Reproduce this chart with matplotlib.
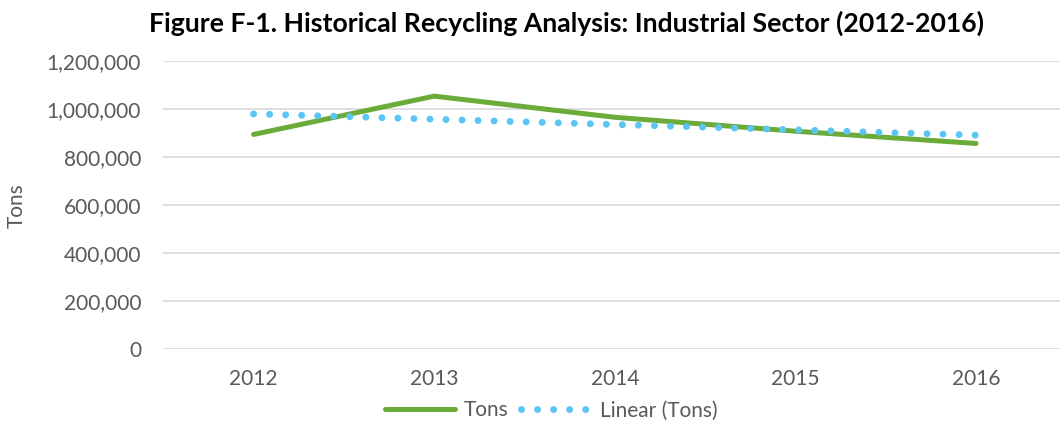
import matplotlib.pyplot as plt
import numpy as np
from matplotlib.lines import Line2D
from matplotlib.ticker import FuncFormatter

# Datos
years = ['2012', '2013', '2014', '2015', '2016']
tons = [894500, 1054000, 966000, 908000, 857000]

title = 'Figure F-1. Historical Recycling Analysis: Industrial Sector (2012-2016)'
y_ticks = [0, 200000, 400000, 600000, 800000, 1000000, 1200000]

green = '#6AAB3A'
blue = '#5BC5F5'
grey_text = '#595959'
grid_col = '#D9D9D9'
dots = (0, (0.01, 2.3))

plt.rcParams['font.family'] = ['Lato', 'DejaVu Sans']

fig = plt.figure(figsize=(10.6, 4.21), dpi=100)
ax = fig.add_axes([0.154, 0.17, 0.852, 0.685])

x = np.arange(len(years))
y = np.array(tons, dtype=float)

ax.plot(x, y, color=green, lw=3.6, solid_capstyle='round',
        solid_joinstyle='round', zorder=3)

# tendencia lineal (como Excel)
coef = np.polyfit(x, y, 1)
trend = np.polyval(coef, x)
ax.plot(x, trend, color=blue, lw=5, linestyle=dots,
        dash_capstyle='round', zorder=4)

ax.set_xlim(-0.5, len(years) - 0.5)
ax.set_ylim(0, 1200000)
ax.set_yticks(y_ticks)
ax.yaxis.set_major_formatter(FuncFormatter(lambda v, p: f'{int(v):,}'))
ax.set_xticks(x)
ax.set_xticklabels(years)
ax.tick_params(length=0, labelsize=15, colors=grey_text)
ax.tick_params(axis='y', pad=16)
ax.tick_params(axis='x', pad=14)
ax.grid(axis='y', color=grid_col, lw=1.2)
ax.set_axisbelow(True)
for s in ax.spines.values():
    s.set_visible(False)

ax.set_ylabel('Tons', fontsize=15, color=grey_text, labelpad=14)

fig.text(0.534, 0.945, title, ha='center', va='center', fontsize=19.2,
         fontweight='bold', color='black')

handles = [
    Line2D([], [], color=green, lw=3.6, solid_capstyle='round'),
    Line2D([], [], color=blue, lw=5, linestyle=dots, dash_capstyle='round'),
]
fig.legend(handles, ['Tons', 'Linear (Tons)'], loc='center', bbox_to_anchor=(0.52, 0.025),
           ncol=2, frameon=False, fontsize=15, labelcolor=grey_text,
           handlelength=3.4, handletextpad=0.4, columnspacing=0.6)

fig.savefig('out.png', dpi=100)
